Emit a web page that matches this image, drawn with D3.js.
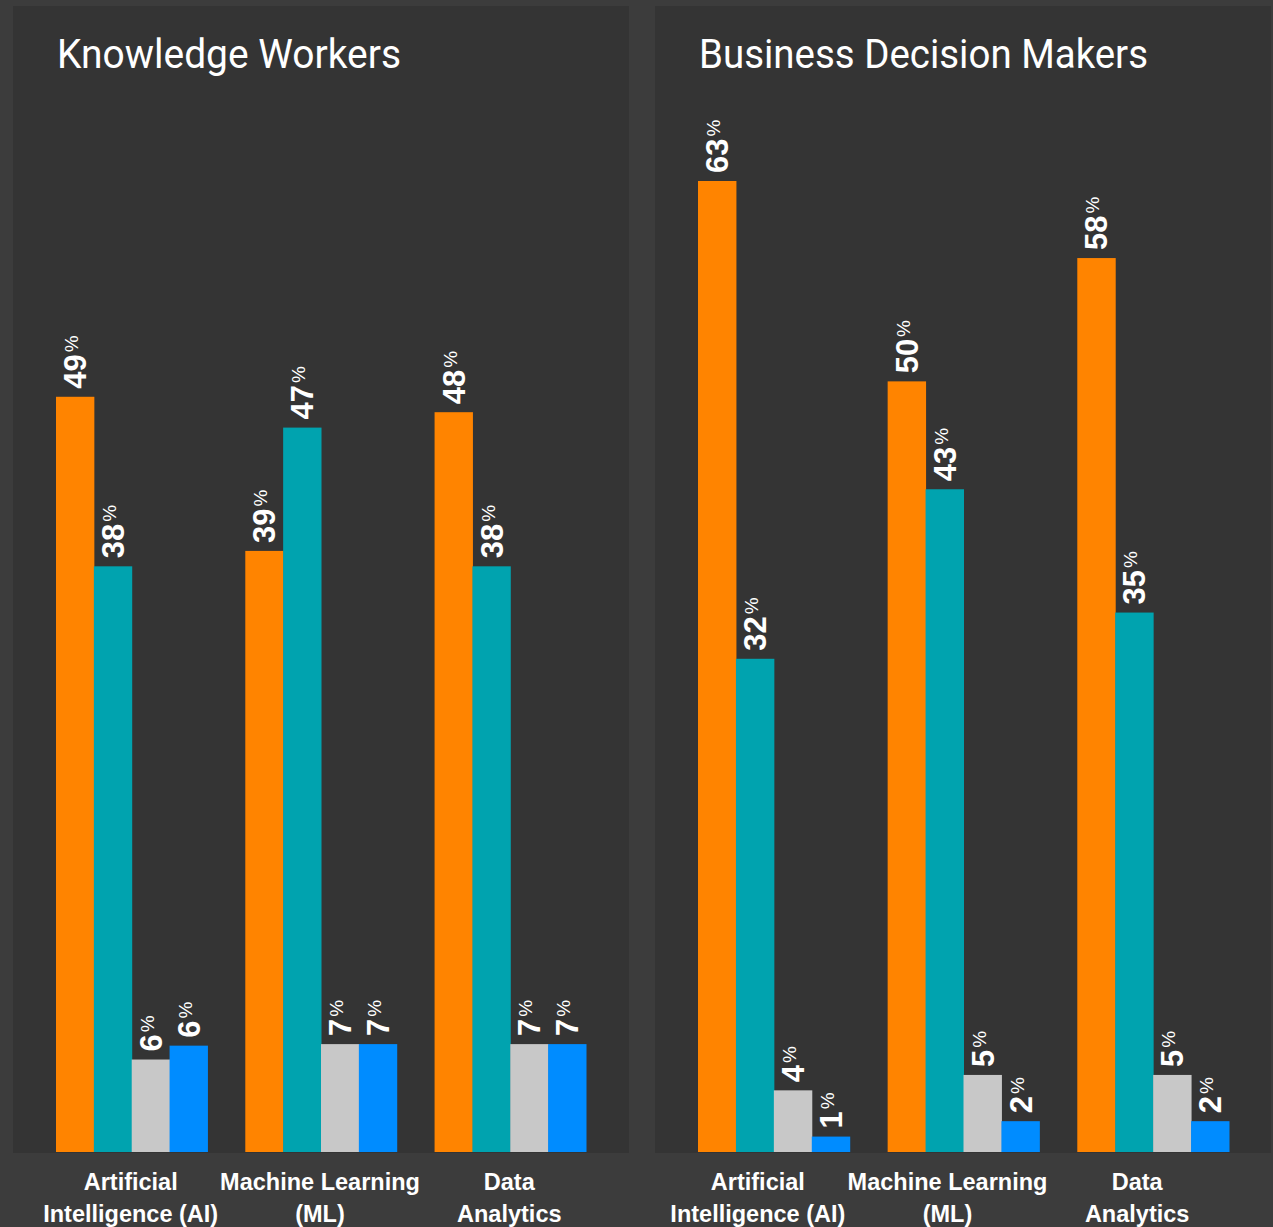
<!DOCTYPE html>
<html>
<head>
<meta charset="utf-8">
<script src="https://cdn.jsdelivr.net/npm/d3@7"></script>
<style>
  html, body { margin: 0; padding: 0; background: #3c3c3c; }
  svg { display: block; }
</style>
</head>
<body>
<div id="chart"></div>
<script>
// categories and the two-line labels under each group
const categories = ['Artificial Intelligence (AI)', 'Machine Learning (ML)', 'Data Analytics']
const categoryLines = [['Artificial', 'Intelligence (AI)'], ['Machine Learning', '(ML)'], ['Data', 'Analytics']]

// four answer series (no legend in the source), one value per category
const seriesKeys = ['s1', 's2', 's3', 's4']
const seriesColors = ['#ff8400', '#00a3af', '#c8c8c8', '#008cff']

// Knowledge Workers, per series (labels show the value rounded down)
const kwS1 = [49, 39, 48]
const kwS2 = [38, 47, 38]
const kwS3 = [6, 7, 7]
const kwS4 = [6.9, 7, 7]

// Business Decision Makers, per series
const bdmS1 = [63, 50, 58]
const bdmS2 = [32, 43, 35]
const bdmS3 = [4, 5, 5]
const bdmS4 = [1, 2, 2]

const panelTitles = ['Knowledge Workers', 'Business Decision Makers']

const W = 1273
const H = 1227
const labelFont = '"Liberation Sans", Arial, sans-serif'

const svg = d3.select('#chart')
  .append('svg')
  .attr('width', W)
  .attr('height', H)

svg.append('rect')
  .attr('width', W).attr('height', H)
  .attr('fill', '#3c3c3c')

// same value scale for both panels
const y = d3.scaleLinear().domain([0, 63]).range([1152, 181])

const panels = [
  { title: panelTitles[0], series: [kwS1, kwS2, kwS3, kwS4], box: [13, 629], bars: [56, 586], titleLen: 344, catShift: -1 },
  { title: panelTitles[1], series: [bdmS1, bdmS2, bdmS3, bdmS4], box: [655, 1271], bars: [698, 1229], titleLen: 449, catShift: -16 }
]

panels.forEach(function (p) {
  const g = svg.append('g')

  g.append('rect')
    .attr('x', p.box[0])
    .attr('y', 6)
    .attr('width', p.box[1] - p.box[0])
    .attr('height', 1153 - 6)
    .attr('fill', '#343434')

  g.append('text')
    .attr('x', p.box[0] + 44)
    .attr('y', 68)
    .attr('fill', '#ffffff')
    .attr('font-family', 'Roboto, sans-serif')
    .attr('font-size', 40)
    .attr('textLength', p.titleLen)
    .attr('lengthAdjust', 'spacingAndGlyphs')
    .text(p.title)

  const x0 = d3.scaleBand()
    .domain(categories)
    .range(p.bars)
    .paddingInner(0.2)
    .paddingOuter(0)

  const x1 = d3.scaleBand()
    .domain(seriesKeys)
    .range([0, x0.bandwidth()])

  const rows = categories.map(function (c, i) {
    return { cat: c, vals: seriesKeys.map(function (k, j) { return { key: k, v: p.series[j][i] } }) }
  })

  const group = g.selectAll('g.grp')
    .data(rows)
    .enter()
    .append('g')
    .attr('class', 'grp')
    .attr('transform', function (d) { return 'translate(' + x0(d.cat) + ',0)' })

  group.selectAll('rect')
    .data(function (d) { return d.vals })
    .enter()
    .append('rect')
    .attr('x', function (d) { return x1(d.key) })
    .attr('y', function (d) { return y(d.v) })
    .attr('width', x1.bandwidth() + 0.5)
    .attr('height', function (d) { return y(0) - y(d.v) })
    .attr('fill', function (d, i) { return seriesColors[i] })

  // rotated value labels, "%" set as superscript
  const lab = group.selectAll('text.val')
    .data(function (d) { return d.vals })
    .enter()
    .append('text')
    .attr('class', 'val')
    .attr('transform', function (d) {
      return 'translate(' + (x1(d.key) + x1.bandwidth() / 2) + ',' + (y(d.v) - 8) + ') rotate(-90)'
    })
    .attr('dy', '0.36em')
    .attr('fill', '#ffffff')
    .attr('font-family', labelFont)
    .attr('font-weight', 'bold')
    .attr('font-size', 31)

  lab.append('tspan').text(function (d) { return Math.floor(d.v) })
  lab.append('tspan')
    .attr('font-size', 19)
    .attr('font-weight', 'normal')
    .attr('dx', 2)
    .attr('dy', -8)
    .text('%')

  // category labels
  const cat = svg.append('g')
    .selectAll('text')
    .data(categories)
    .enter()
    .append('text')
    .attr('x', function (d) { return x0(d) + x0.bandwidth() / 2 + p.catShift })
    .attr('y', 1190)
    .attr('text-anchor', 'middle')
    .attr('fill', '#ffffff')
    .attr('font-family', labelFont)
    .attr('font-weight', 'bold')
    .attr('font-size', 23.5)

  cat.selectAll('tspan')
    .data(function (d, i) { return categoryLines[i] })
    .enter()
    .append('tspan')
    .attr('x', function () { return d3.select(this.parentNode).attr('x') })
    .attr('dy', function (d, i) { return i === 0 ? 0 : 32 })
    .text(function (d) { return d })
})
</script>
</body>
</html>
